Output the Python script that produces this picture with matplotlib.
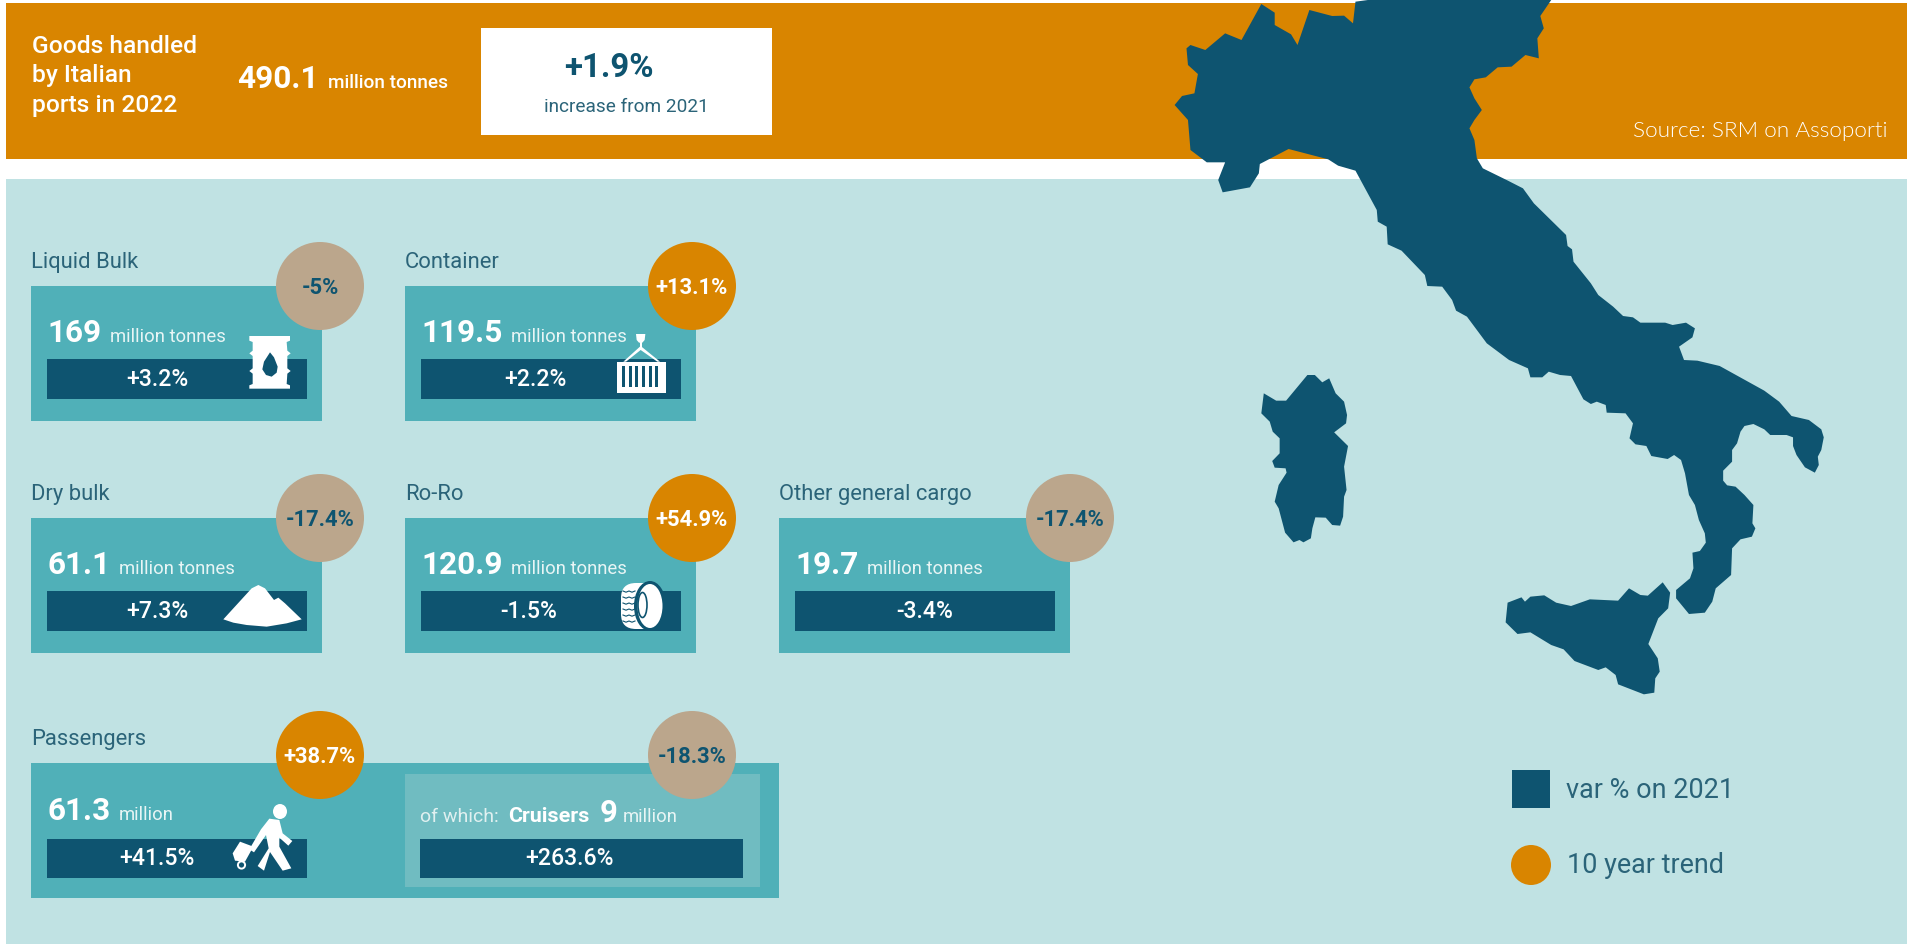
import matplotlib
matplotlib.use("Agg")
import matplotlib.pyplot as plt
from matplotlib.patches import Rectangle, Circle, Polygon, Ellipse, FancyBboxPatch

# ---------- data ----------
total_value = "490.1"
total_change = "+1.9%"
categories = ["Liquid Bulk", "Container", "Dry bulk", "Ro-Ro", "Other general cargo", "Passengers"]
volumes = ["169", "119.5", "61.1", "120.9", "19.7", "61.3"]
units = ["million tonnes"] * 5 + ["million"]
var_2021 = ["+3.2%", "+2.2%", "+7.3%", "-1.5%", "-3.4%", "+41.5%"]
trend_10y = ["-5%", "+13.1%", "-17.4%", "+54.9%", "-17.4%", "+38.7%"]
cruise_volume = "9"
cruise_var = "+263.6%"
cruise_trend = "-18.3%"

# ---------- layout ----------
ORANGE = "#D98500"; BG = "#C0E2E3"; CARD = "#50B0B8"; DARK = "#0E5470"
TAN = "#BBA68C"; PANEL = "#70BCC1"; LABEL = "#2B6479"
FONT = "Roboto"

card_x = [31, 405, 31, 405, 779, 31]
card_top = [286, 286, 518, 518, 518, 763]
card_w = [291, 291, 291, 291, 291, 748]
card_h = 135
bar_w = 260.5
bar_text_x = [157, 535, 157, 529, 925, 157]
circle_x = [320, 692, 320, 692, 1070, 320]

fig = plt.figure(figsize=(19.07, 9.44), dpi=100, facecolor="white")
ax = fig.add_axes([0, 0, 1, 1])
ax.set_xlim(0, 1907); ax.set_ylim(944, 0); ax.axis("off")
renderer = fig.canvas.get_renderer()


def txt(x, y, s, px, color="white", weight="normal", ha="left", family=FONT, z=10):
    return ax.text(x, y, s, fontsize=px * 0.72, color=color, fontweight=weight,
                   ha=ha, va="baseline", family=family, zorder=z)


def after(t, gap, y, s, px, **kw):
    x1 = t.get_window_extent(renderer).x1
    return txt(x1 + gap, y, s, px, **kw)


def rect(x0, y0, x1, y1, c, z=2):
    ax.add_patch(Rectangle((x0, y0), x1 - x0, y1 - y0, fc=c, ec="none", zorder=z))


def poly(pts, c, z=6):
    ax.add_patch(Polygon(pts, closed=True, fc=c, ec="none", zorder=z))


# ---------- bands ----------
rect(5.5, 3, 1907, 159, ORANGE, 1)
rect(5.5, 179, 1907, 944, BG, 1)
rect(481, 28, 772, 135, "white", 2)

for x, y, s in zip([32, 32, 32], [53, 82, 112], ["Goods handled", "by Italian", "ports in 2022"]):
    txt(x, y, s, 24.5, weight=500)
t = txt(237, 88, total_value, 31.5, weight="bold")
after(t, 10, 88, "million tonnes", 19, weight=500)
txt(609, 77, total_change, 33, color=DARK, weight="bold", ha="center")
txt(626, 112, "increase from 2021", 19, color=LABEL, ha="center")
txt(1888, 137, "Source: SRM on Assoporti", 22.5, ha="right", family="Lato", weight=300)

# ---------- map ----------
zx = lambda p: 1130 + p / 2.018
north = [(455,5),(480,0),(850,0),(828,48),(835,85),(822,115),(825,175),(798,165),(770,200),(742,202),
         (718,232),(695,238),(685,262),(695,295),(710,330),(695,360),(685,385),(695,420),(700,475),(712,505),
         (760,540),(793,565),(815,610),(880,705),(883,738),(892,748),(895,785),(930,850),(945,885),(975,920),
         (995,948),(1015,952),(1030,968),(1080,968),(1095,975),(1122,968),(1140,985),(1135,1012),(1108,1040),
         (1118,1080),(1145,1082)]
south = [(1190,18),(1280,92),(1310,125),(1335,168),(1370,180),(1395,208),(1400,232),(1395,270),(1388,290),
         (1390,315),(1382,338),(1362,322),(1345,285),(1338,258),(1338,232),(1325,225),(1292,225),(1280,208),
         (1258,192),(1240,198),(1232,215),(1225,250),(1215,270),(1215,305),(1197,332),(1197,362),(1205,376),
         (1222,380),(1240,405),(1258,435),(1256,490),(1262,505),(1255,530),(1232,538),(1215,565),(1213,645),
         (1182,685),(1175,725),(1160,758),(1128,762),(1102,715),(1102,690),(1130,655),(1137,625),(1135,578),
         (1150,573),(1162,548),(1160,520),(1148,480),(1140,435),(1128,405),(1120,340),(1112,300),(1098,285),
         (1085,297),(1052,288),(1042,258),(1020,253),(1008,235),(1015,190),(1000,160),(962,158),(960,135),
         (942,125),(930,132),(915,118),(890,48),(868,45),(845,35),(832,52),(808,52),(803,25),(765,0)]
west = [(720,1030),(680,950),(658,932),(650,900),(630,860),(600,858),(595,825),(548,752),(520,733),(518,680),
        (500,665),(498,630),(455,512),(420,497),(400,478),(320,447),(262,492),(260,520),(242,562),(187,577),
        (178,540),(192,487),(155,487),(122,450),(117,360),(90,315),(105,288),(130,280),(137,222),(117,195),
        (114,145),(122,135),(152,150),(192,100),(225,120),(265,12),(292,38),(292,75),(325,103),(338,135),
        (362,30),(408,48),(432,47),(450,70)]
mainland = [(zx(a), b / 3) for a, b in north] + [(zx(a), 360 + b / 3) for a, b in south] + [(zx(a), b / 3) for a, b in west]
poly(mainland, DARK, 3)
sardinia = [(358,45),(373,45),(388,67),(402,55),(415,100),(432,125),(438,165),(436,190),(412,217),(440,258),
            (432,320),(437,390),(432,410),(430,470),(424,497),(408,495),(395,473),(374,472),(368,505),(365,535),
            (350,547),(342,540),(330,547),(313,518),(300,445),(292,425),(300,375),(316,338),(314,325),(292,323),
            (287,303),(302,280),(302,235),(288,215),(282,185),(265,160),(270,100),(295,122),(315,122)]
poly([(zx(a), 360 + b / 3) for a, b in sardinia], DARK, 3)
sicily = [(762,728),(790,712),(797,725),(808,710),(836,706),(860,728),(890,738),(928,718),(985,722),(1007,685),
          (1030,705),(1045,707),(1075,667),(1090,698),(1086,745),(1066,775),(1046,852),(1065,895),(1069,935),
          (1060,955),(1058,998),(1037,1003),(985,973),(980,945),(960,922),(945,930),(897,903),(875,868),(850,855),
          (808,817),(782,822),(758,787)]
poly([(zx(a), 360 + b / 3) for a, b in sicily], DARK, 3)

# ---------- cards ----------
for i, cat in enumerate(categories):
    x, top = card_x[i], card_top[i]
    rect(x, top, x + card_w[i], top + card_h, CARD, 2)
    txt(x, top - 18, cat, 22, color=LABEL)
    bx = x + 15.5
    rect(bx, top + (76 if i == 5 else 73), bx + bar_w, top + (115 if i == 5 else 113), DARK, 4)
    ny = top + (57 if i == 5 else 56)
    t = txt(bx + 1, ny, volumes[i], 31.5, weight="bold")
    after(t, 8, ny, units[i], 18.5, color="#E8F5F5")
    txt(bar_text_x[i], top + (102 if i == 5 else 100), var_2021[i], 23, weight=500, ha="center")
    cy = top if i < 5 else top - 8
    neg = trend_10y[i].startswith("-")
    ax.add_patch(Circle((circle_x[i], cy), 44, fc=TAN if neg else ORANGE, ec="none", zorder=7))
    txt(circle_x[i], cy + 8, trend_10y[i], 22, color=DARK if neg else "white", weight="bold", ha="center")

# cruise panel
rect(405, 774, 760, 887, PANEL, 3)
rect(420, 839, 743, 878, DARK, 4)
txt(420, 822, "of which:", 19.5, color="#E0F0F0")
txt(508, 822, "Cruisers", 21.5, weight="bold")
t = txt(599.5, 822, cruise_volume, 31, weight="bold")
after(t, 5, 822, "million", 18.5, color="#E8F5F5")
txt(570, 865, cruise_var, 23, weight=500, ha="center")
ax.add_patch(Circle((692, 755), 44, fc=TAN, ec="none", zorder=7))
txt(692, 763, cruise_trend, 22, color=DARK, weight="bold", ha="center")

# ---------- icons ----------
def ic(ox, oy, pts):
    return [(ox + a / 3, oy + b / 3) for a, b in pts]

# barrel
poly(ic(230, 320, [(58,48),(180,48),(180,62),(170,66),(172,92),(182,100),(172,108),(172,145),(182,153),(172,161),
                   (170,192),(180,196),(180,206),(58,206),(58,196),(68,192),(68,161),(58,153),(68,145),(68,108),
                   (58,100),(68,92),(68,66),(58,62)]), "white")
poly(ic(230, 320, [(120,97),(132,112),(143,140),(140,158),(125,170),(108,165),(97,148),(102,125)]), DARK, 7)

# container
poly(ic(600, 320, [(52,125),(198,125),(198,218),(52,218)]), "white")
for xs in (66, 86, 106, 126, 146, 166):
    poly(ic(600, 320, [(xs,138),(xs+9,138),(xs+9,202),(xs,202)]), DARK, 7)
poly(ic(600, 320, [(108,42),(136,42),(134,60),(127,68),(117,68),(110,60)]), "white")
poly(ic(600, 320, [(120,66),(125,66),(125,85),(120,85)]), "white")
poly(ic(600, 320, [(122,78),(180,125),(172,125),(122,90),(78,125),(70,125)]), "white")

# mound
poly(ic(210, 570, [(40,148),(125,55),(145,45),(165,55),(192,90),(205,83),(225,100),(275,148),(230,160),(170,170),
                   (110,165),(70,158)]), "white")

# tyre (zoom origin 600,570)
ax.add_patch(FancyBboxPatch((621, 583), 38, 46, boxstyle="round,pad=0,rounding_size=15", fc="white", ec="none", zorder=6))
ax.add_patch(Ellipse((650, 606), 32, 50, fc=DARK, ec="none", zorder=7))
ax.add_patch(Ellipse((650, 606), 25, 44, fc="white", ec="none", zorder=8))
ax.add_patch(Ellipse((642.5, 605), 9, 25, fc="none", ec=DARK, lw=1.2, zorder=9))
for yy in (591, 597, 603, 609, 615, 621):
    ax.plot([623, 626, 629, 632, 635], [yy, yy + 1.2, yy, yy + 1.2, yy], color=DARK, lw=0.8, zorder=7)

# passenger (zoom origin 220,790)
ax.add_patch(Ellipse((280, 811.5), 14, 15, fc="white", ec="none", zorder=6))
poly(ic(220, 790, [(148,86),(178,90),(188,130),(217,153),(205,167),(178,143),(178,170),(214,235),(188,242),(150,186),
                   (132,242),(113,228),(146,175),(138,135),(102,187),(88,178),(123,118)]), "white")
poly(ic(220, 790, [(38,190),(60,155),(100,170),(75,215),(45,212)]), "white")
ax.add_patch(Circle((241.5, 865), 3.6, fc=DARK, ec="white", lw=1.4, zorder=6))

# ---------- legend ----------
rect(1512, 770, 1550, 808, DARK, 4)
ax.add_patch(Circle((1531, 865), 20, fc=ORANGE, ec="none", zorder=4))
txt(1566, 798, "var % on 2021", 27, color=LABEL)
txt(1567, 873, "10 year trend", 27, color=LABEL)

fig.savefig("out.png", dpi=100, facecolor="white")
